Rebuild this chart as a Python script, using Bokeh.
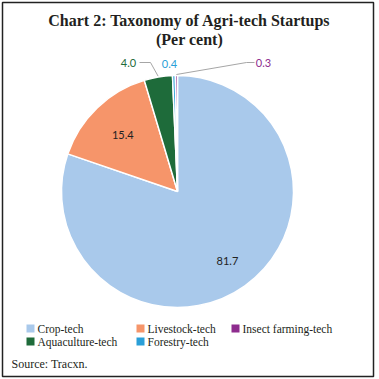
import numpy as np
from bokeh.plotting import figure
from bokeh.models import Range1d, ColumnDataSource
from bokeh.core.properties import value
from bokeh.embed import file_html
from bokeh.resources import INLINE

# ---- data ----
categories = ["Crop-tech", "Livestock-tech", "Aquaculture-tech", "Forestry-tech", "Insect farming-tech"]
shares = [81.7, 15.4, 4.0, 0.4, 0.3]
share_labels = ["81.7", "15.4", "4.0", "0.4", "0.3"]
legend_order = ["Crop-tech", "Livestock-tech", "Insect farming-tech", "Aquaculture-tech", "Forestry-tech"]
title_line1 = "Chart 2: Taxonomy of Agri-tech Startups"
title_line2 = "(Per cent)"
source_text = "Source: Tracxn."

# ---- styles ----
colors = {
    "Crop-tech": "#A9C9EB",
    "Livestock-tech": "#F6956A",
    "Aquaculture-tech": "#1E6B3A",
    "Forestry-tech": "#2A9FD8",
    "Insect farming-tech": "#8E2C8E",
}
label_colors = {
    "Crop-tech": "#222222",
    "Livestock-tech": "#222222",
    "Aquaculture-tech": "#1E6B3A",
    "Forestry-tech": "#2A9FD8",
    "Insect farming-tech": "#8E2C8E",
}
SERIF = "Liberation Serif"
SANS = "Lato"

W, H = 376, 378

# layout helper (image pixel coords -> data coords)
def Y(y_img):
    return H - y_img

p = figure(width=W, height=H, x_range=Range1d(0, W), y_range=Range1d(0, H),
           output_backend="svg", toolbar_location=None, min_border=0,
           x_axis_location=None, y_axis_location=None)
p.grid.visible = False
p.outline_line_color = None
p.background_fill_color = "white"
p.border_fill_color = "white"

# frame border
p.quad(left=[2], right=[373], top=[Y(2)], bottom=[Y(376)], fill_color=None,
       line_color="#222222", line_width=1.5)

# ---- pie ----
cx, cy, R = 177, 191, 116
vals = np.array(shares)
total = vals.sum()
cum = np.concatenate([[0], np.cumsum(vals)])
k = 2 * np.pi / total
start_clock = np.pi / 2 - cum[:-1] * k
end_clock = np.pi / 2 - cum[1:] * k
src = ColumnDataSource(dict(
    x=[cx] * len(vals), y=[Y(cy)] * len(vals),
    start=end_clock, end=start_clock,
    color=[colors[c] for c in categories],
))
p.wedge(x="x", y="y", radius=R, radius_units="screen", start_angle="start", end_angle="end",
        direction="anticlock", fill_color="color", line_color="white", line_width=1.5, source=src)

mid = (start_clock + end_clock) / 2

# inside labels
inside_rf = {"Crop-tech": 0.74, "Livestock-tech": 0.68}
# outside labels (image coords) and leader elbows
outside_pos = {"Aquaculture-tech": (128, 62), "Forestry-tech": (169, 63), "Insect farming-tech": (263, 62)}
leaders = {"Aquaculture-tech": [(139, 62), (150, 62)], "Insect farming-tech": [(254, 62), (246, 62)]}

for i, c in enumerate(categories):
    if c in inside_rf:
        lx = cx + inside_rf[c] * R * np.cos(mid[i])
        ly = Y(cy) + inside_rf[c] * R * np.sin(mid[i])
    else:
        lx, ly = outside_pos[c][0], Y(outside_pos[c][1])
    p.text(x=[lx], y=[ly], text=[share_labels[i]], text_align="center", text_baseline="middle",
           text_font=value(SANS), text_font_size="11px", text_color=label_colors[c])
    if c in leaders:
        ax = cx + (R + 1) * np.cos(mid[i])
        ay = Y(cy) + (R + 1) * np.sin(mid[i])
        xs = [leaders[c][0][0], leaders[c][1][0], ax]
        ys = [Y(leaders[c][0][1]), Y(leaders[c][1][1]), ay]
        p.line(x=xs, y=ys, line_color="#A6A6A6", line_width=1)

# ---- title ----
p.text(x=[189], y=[Y(20)], text=[title_line1], text_align="center", text_baseline="middle",
       text_font=value(SERIF), text_font_size="16px", text_font_style="bold", text_color="#231F20")
p.text(x=[189], y=[Y(39)], text=[title_line2], text_align="center", text_baseline="middle",
       text_font=value(SERIF), text_font_size="16px", text_font_style="bold", text_color="#231F20")

# ---- legend (manual) ----
leg_slots = [(30, 328), (140, 328), (235, 328), (30, 341), (140, 341)]
for name, (sx, sy) in zip(legend_order, leg_slots):
    p.scatter(x=[sx], y=[Y(sy)], marker="square", size=8, fill_color=colors[name], line_color=None)
    p.text(x=[sx + 7], y=[Y(sy)], text=[name], text_align="left", text_baseline="middle",
           text_font=value(SERIF), text_font_size="11.5px", text_color="#231F20")

# ---- source ----
p.text(x=[11], y=[Y(363)], text=[source_text], text_align="left", text_baseline="middle",
       text_font=value(SERIF), text_font_size="12px", text_color="#231F20")

open("out.html", "w").write(file_html(p, INLINE))
